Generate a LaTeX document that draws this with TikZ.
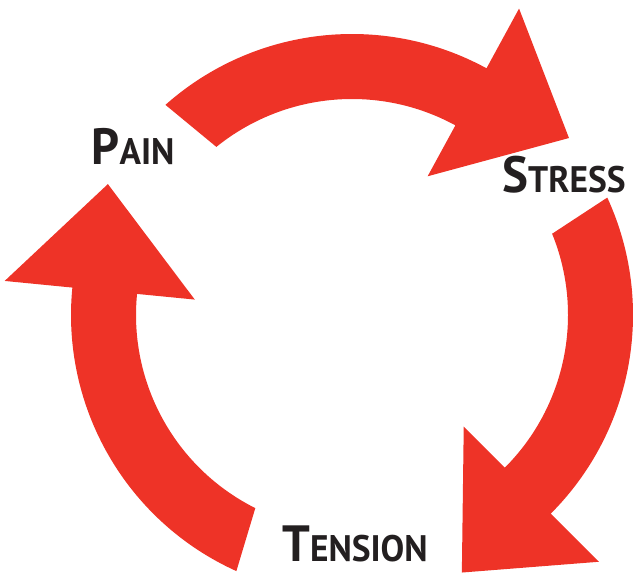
\documentclass[tikz,border=0pt]{standalone}
\usepackage{fontspec}
\setmainfont[FakeStretch=0.96]{PT Sans}
\definecolor{cyclered}{RGB}{238,51,39}
\definecolor{labelink}{RGB}{35,31,32}
\tikzset{
  cycle label/.style={font=\bfseries, text=labelink, inner sep=0pt, anchor=base},
}
\newcommand{\capword}[2]{{\fontsize{29}{30}\selectfont #1}{\fontsize{21}{22}\selectfont #2}}
\begin{document}
\begin{tikzpicture}[x=0.02cm,y=0.02cm]
\useasboundingbox (0,0) rectangle (634,573);
\begin{scope}[shift={(352,258)}]
\foreach \ta/\tb/\b/\tip/\tr in {131.6/128.9/61.4/39.2/280, 24.7/22.1/-45/-66.9/280, 245.7/243.4/174.4/151.8/277} {
  \fill[cyclered] (\ta:281) arc[start angle=\ta, end angle=\b, radius=281]
    -- (\b:349) -- (\tip:\tr) -- (\b:158) -- (\b:216)
    arc[start angle=\b, end angle=\tb, radius=216] -- cycle;
}
\end{scope}
\node[cycle label] (pain) at (133,408) {\capword{P}{AIN}};
\node[cycle label] (stress) at (564,380) {\capword{S}{TRESS}};
\node[cycle label] (tension) at (355,11) {\capword{T}{ENSION}};
\end{tikzpicture}
\end{document}
